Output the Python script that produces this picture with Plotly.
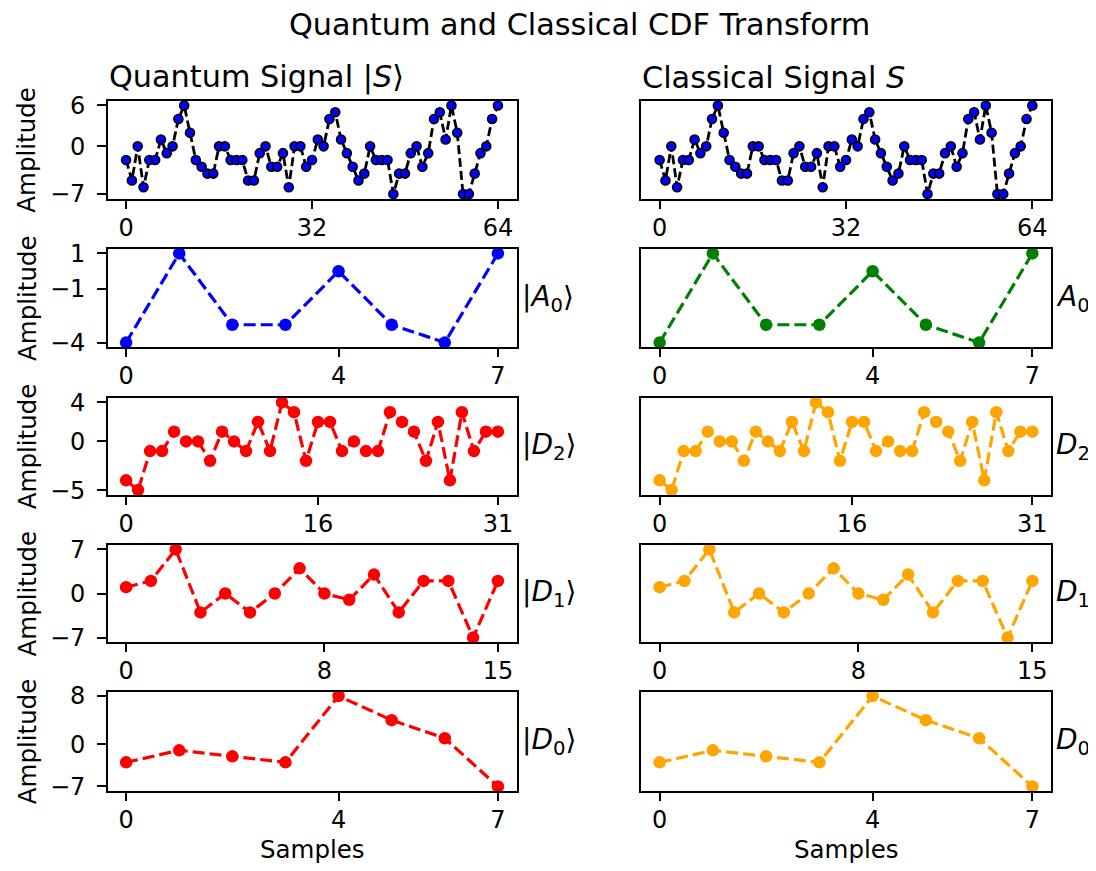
import plotly.graph_objects as go

# page is 1096x871; the browser's default 8px body margin is taken into account
PAGE_W, PAGE_H = 1096, 871
OFF = 8
W, H = PAGE_W - OFF, PAGE_H - 2 * OFF   # 1088 x 855

# ---------------- data ----------------
signal = [-2, -5, 0, -6, -2, -2, 1, -1, 0, 4,
          6, 2, -2, -3, -4, -4, 0, 0, -2, -2,
          -2, -5, -5, -1, 0, -3, -3, -1, -6, 0,
          0, -3, -2, 1, 0, 4, 5, 1, -1, -3,
          -5, -4, 0, -2, -2, -2, -7, -4, -4, -1,
          0, -3, -1, 4, 5, 1, 6, 2, -7, -7,
          -4, -1, 0, 4, 6]
A0 = [-4, 1, -3, -3, 0, -3, -4, 1]
D2 = [-4, -5, -1, -1, 1, 0, 0, -2, 1, 0, -1, 2, -1, 4, 3, -2,
      2, 2, -1, 0, -1, -1, 3, 2, 1, -2, 2, -4, 3, -1, 1, 1]
D1 = [1, 2, 7, -3, 0, -3, 0, 4, 0, -1, 3, -3, 2, 2, -7, 2]
D0 = [-3, -1, -2, -3, 8, 4, 1, -7]

rows_data = [signal, A0, D2, D1, D0]
y_ticks = [[-7, 0, 6], [-4, -1, 1], [-5, 0, 4], [-7, 0, 7], [-7, 0, 8]]
x_ticks = [[0, 32, 64], [0, 4, 7], [0, 16, 31], [0, 8, 15], [0, 4, 7]]
quantum_labels = ["|<i>S</i>⟩", "|<i>A</i><sub>0</sub>⟩", "|<i>D</i><sub>2</sub>⟩",
                  "|<i>D</i><sub>1</sub>⟩", "|<i>D</i><sub>0</sub>⟩"]
classical_labels = ["<i>S</i>", "<i>A</i><sub>0</sub>", "<i>D</i><sub>2</sub>",
                    "<i>D</i><sub>1</sub>", "<i>D</i><sub>0</sub>"]
quantum_colors = ["#0000ff", "#0000ff", "#ff0000", "#ff0000", "#ff0000"]
classical_colors = ["#0000ff", "#008000", "#ffa500", "#ffa500", "#ffa500"]

# ---------------- layout geometry (page pixels) ----------------
col_px = [(107.5, 516.5), (641.0, 1051.0)]
row_px = [(101.0, 198.5), (249.0, 347.0), (398.0, 494.5), (545.0, 642.0), (691.5, 791.0)]

FONT = "DejaVu Sans"
TICK_SIZE = 24
LABEL_SIZE = 24.5
TITLE_SIZE = 30.3
SIDE_SIZE = 28

def fx(px):
    return (px - OFF) / W

def fy(py):
    return 1 - (py - OFF) / H

def fmt(v):
    return str(v).replace("-", "\u2212")

fig = go.Figure()
layout = dict(
    width=W, height=H,
    margin=dict(l=0, r=0, t=0, b=0, autoexpand=False),
    paper_bgcolor="white", plot_bgcolor="white",
    showlegend=False,
    font=dict(family=FONT, size=TICK_SIZE, color="black"),
)
annotations = []

for r, data in enumerate(rows_data):
    n = len(data)
    xs = list(range(n))
    lo, hi = min(data), max(data)
    span = hi - lo
    yr = [lo - 0.05 * span, hi + 0.05 * span]
    xr = [-0.05 * (n - 1), (n - 1) * 1.05]
    for c in range(2):
        k = r * 2 + c + 1
        xa = "x" if k == 1 else f"x{k}"
        ya = "y" if k == 1 else f"y{k}"
        if r == 0:
            line = dict(color="black", width=2.8, dash="9px,4px")
            marker = dict(color="#0000ff", size=9, line=dict(color="black", width=1.6))
        else:
            colr = quantum_colors[r] if c == 0 else classical_colors[r]
            line = dict(color=colr, width=3.2, dash="12px,5px")
            marker = dict(color=colr, size=12.5)
        fig.add_trace(go.Scatter(x=xs, y=data, mode="lines+markers", line=line,
                                 marker=marker, xaxis=xa, yaxis=ya,
                                 cliponaxis=False, hoverinfo="skip"))
        x0, x1 = col_px[c]
        y0, y1 = row_px[r]
        layout["xaxis" if k == 1 else f"xaxis{k}"] = dict(
            domain=[fx(x0), fx(x1)], anchor=ya, range=xr,
            showgrid=False, zeroline=False, showline=True, mirror=True,
            linecolor="black", linewidth=1.8,
            ticks="outside", ticklen=8.5, tickwidth=1.8, tickcolor="black",
            tickvals=x_ticks[r], ticktext=[fmt(v) for v in x_ticks[r]],
            tickfont=dict(family=FONT, size=TICK_SIZE, color="black"),
            ticklabelstandoff=-2,
        )
        layout["yaxis" if k == 1 else f"yaxis{k}"] = dict(
            domain=[fy(y1), fy(y0)], anchor=xa, range=yr,
            showgrid=False, zeroline=False, showline=True, mirror=True,
            linecolor="black", linewidth=1.8,
            ticks="outside" if c == 0 else "", ticklen=8.5, tickwidth=1.8, tickcolor="black",
            tickvals=y_ticks[r], ticktext=[fmt(v) for v in y_ticks[r]],
            showticklabels=(c == 0),
            tickfont=dict(family=FONT, size=TICK_SIZE, color="black"),
            ticklabelstandoff=7,
        )
        # right side label (rows 2..5)
        if r > 0:
            lbl = quantum_labels[r] if c == 0 else classical_labels[r]
            annotations.append(dict(
                x=fx(x1 + 3), y=fy((y0 + y1) / 2), xref="paper", yref="paper",
                text=lbl, showarrow=False, xanchor="left", yanchor="middle",
                font=dict(family=FONT, size=SIDE_SIZE, color="black")))
        # Amplitude label, left column only
        if c == 0:
            annotations.append(dict(
                x=fx(27), y=fy((y0 + y1) / 2), xref="paper", yref="paper",
                text="Amplitude", showarrow=False, textangle=-90,
                xanchor="center", yanchor="middle",
                font=dict(family=FONT, size=LABEL_SIZE, color="black")))

# subplot titles
annotations.append(dict(x=fx(107), y=fy(77), xref="paper", yref="paper",
                        text="Quantum Signal " + quantum_labels[0], showarrow=False,
                        xanchor="left", yanchor="middle",
                        font=dict(family=FONT, size=TITLE_SIZE, color="black")))
annotations.append(dict(x=fx(640), y=fy(77), xref="paper", yref="paper",
                        text="Classical Signal " + classical_labels[0], showarrow=False,
                        xanchor="left", yanchor="middle",
                        font=dict(family=FONT, size=TITLE_SIZE, color="black")))
# suptitle
annotations.append(dict(x=fx(579), y=fy(25), xref="paper", yref="paper",
                        text="Quantum and Classical CDF Transform", showarrow=False,
                        xanchor="center", yanchor="middle",
                        font=dict(family=FONT, size=TITLE_SIZE, color="black")))
# Samples labels
for c in range(2):
    x0, x1 = col_px[c]
    annotations.append(dict(x=fx((x0 + x1) / 2), y=fy(849), xref="paper", yref="paper",
                            text="Samples", showarrow=False,
                            xanchor="center", yanchor="middle",
                            font=dict(family=FONT, size=LABEL_SIZE, color="black")))

layout["annotations"] = annotations
fig.update_layout(**layout)
fig.write_html("out.html", config={"displayModeBar": False})
